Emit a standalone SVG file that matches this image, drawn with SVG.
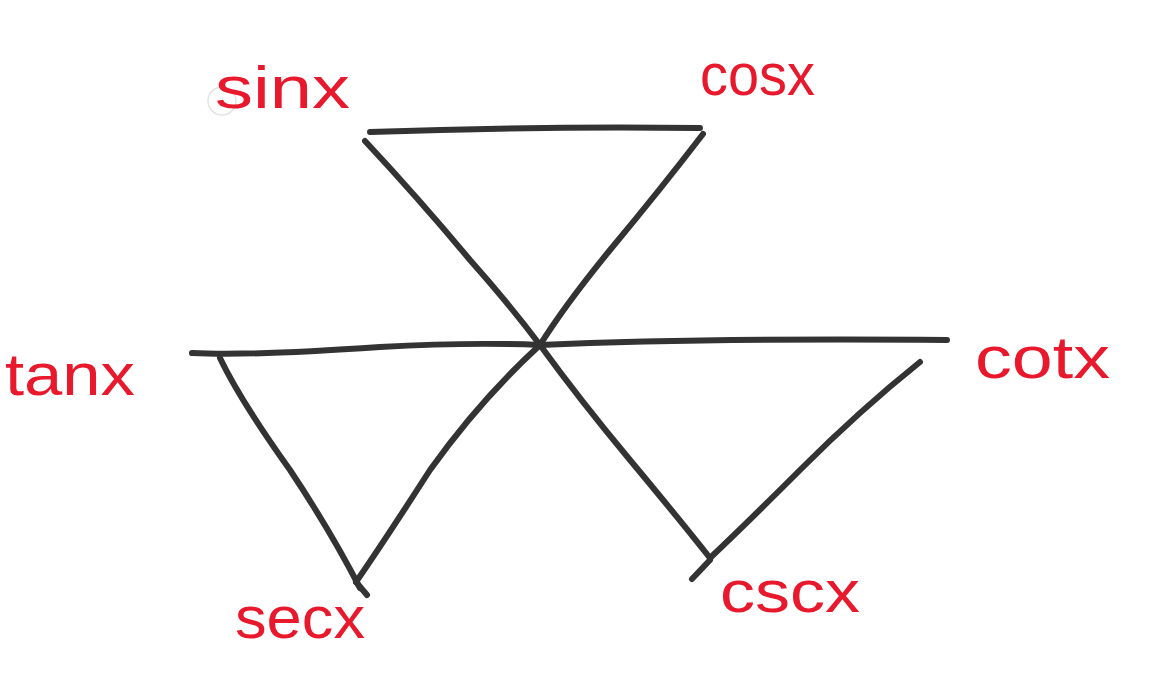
<svg xmlns="http://www.w3.org/2000/svg" width="1153" height="698" viewBox="0 0 1153 698">
<style>
.ln{fill:none;stroke:#333;stroke-width:6;stroke-linecap:round;stroke-linejoin:round}
.lb{font-family:"Liberation Sans",Arial,sans-serif;font-size:60px;fill:#e8192c}
</style>
<rect width="1153" height="698" fill="#fff"/>
<circle cx="222" cy="101" r="14" fill="none" stroke="#e4e4e4" stroke-width="1.5"/>
<g id="connectors">
<path class="ln" d="M370 132 Q540 126 700 128"/>
<path class="ln" d="M365 141 Q420 200 470 260 Q510 305 540 345"/>
<path class="ln" d="M703 134 Q660 190 610 250 Q565 305 540 345"/>
<path class="ln" d="M192 353 Q250 356 380 347 Q470 342 540 345 Q700 338 947 340"/>
<path class="ln" d="M220 358 Q240 400 290 470 Q330 530 360 588"/>
<path class="ln" d="M540 345 Q480 400 430 470 Q385 540 356 582"/>
<path class="ln" d="M356 582 L367 595"/>
<path class="ln" d="M540 345 Q580 400 630 460 Q680 520 710 558"/>
<path class="ln" d="M920 362 Q860 410 800 470 Q750 520 710 558"/>
<path class="ln" d="M710 560 L692 579"/>
</g>
<g id="sinx"><text class="lb" x="215" y="108" textLength="135" lengthAdjust="spacingAndGlyphs">sinx</text></g>
<g id="cosx"><text class="lb" x="700" y="95" textLength="115" lengthAdjust="spacingAndGlyphs">cosx</text></g>
<g id="tanx"><text class="lb" x="5" y="395" textLength="130" lengthAdjust="spacingAndGlyphs">tanx</text></g>
<g id="cotx"><text class="lb" x="975" y="378" textLength="135" lengthAdjust="spacingAndGlyphs">cotx</text></g>
<g id="secx"><text class="lb" x="235" y="638" textLength="130" lengthAdjust="spacingAndGlyphs">secx</text></g>
<g id="cscx"><text class="lb" x="720" y="612" textLength="140" lengthAdjust="spacingAndGlyphs">cscx</text></g>
</svg>
